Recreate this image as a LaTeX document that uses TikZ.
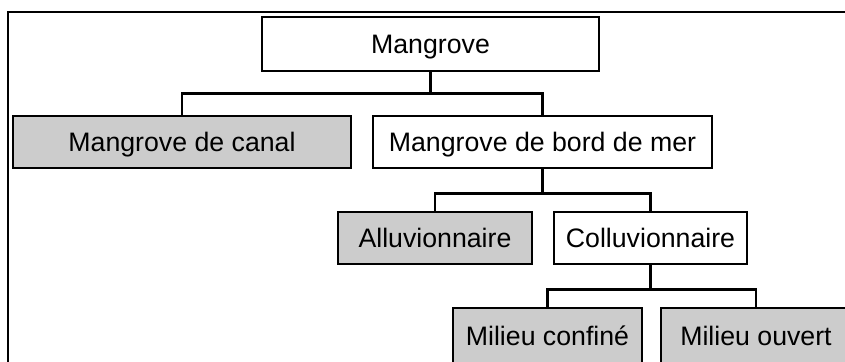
\documentclass[tikz,border=0pt]{standalone}
\usepackage{fontspec}
\setmainfont{Liberation Sans}
\usepackage{tikz}
\usetikzlibrary{positioning}
\definecolor{boxgray}{gray}{0.8}

\begin{document}
\begin{tikzpicture}[x=1pt,y=1pt,on grid,
  font=\fontsize{26.7}{32}\selectfont,
  box/.style={draw,line width=2.6pt,minimum height=52pt,text height=19pt,text depth=0pt,inner sep=0pt},
  shaded/.style={box,fill=boxgray},
  link/.style={line width=2.4pt}]
\useasboundingbox (0,0) rectangle (845,-361);
\clip (0,0) rectangle (845,-361);
% frame
\draw[line width=2pt] (845,-12) -- (8,-12) -- (8,-365);
% nodes
\node[box,minimum width=337pt,minimum height=54pt] (mangrove) at (430.5,-44) {Mangrove};
\node[shaded,minimum width=338pt] (canal) [below left=98pt and 248.5pt of mangrove] {Mangrove de canal};
\node[box,minimum width=339pt] (bord) [below right=98pt and 112pt of mangrove] {Mangrove de bord de mer};
\node[shaded,minimum width=194pt] (alluv) [below left=96pt and 107.5pt of bord] {Alluvionnaire};
\node[box,minimum width=193pt] (colluv) [below right=96pt and 108pt of bord] {Colluvionnaire};
\node[shaded,minimum width=189pt,minimum height=56pt] (confine) [below left=98pt and 103pt of colluv] {Milieu confiné};
\node[shaded,minimum width=190pt,minimum height=56pt] (ouvert) [below right=98pt and 105.5pt of colluv] {Milieu ouvert};
% links
\draw[link] (mangrove.south) -- ++(0,-21) coordinate (j1);
\draw[link] (canal.north) |- (j1) -| (bord.north);
\draw[link] (bord.south) -- ++(0,-24) coordinate (j2);
\draw[link] (alluv.north) |- (j2) -| (colluv.north);
\draw[link] (colluv.south) -- ++(0,-24) coordinate (j3);
\draw[link] (confine.north) |- (j3) -| (ouvert.north);
\end{tikzpicture}
\end{document}
